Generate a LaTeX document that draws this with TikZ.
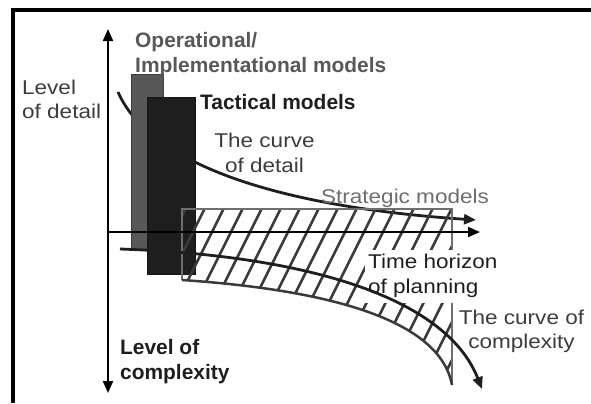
\documentclass[tikz,border=0pt]{standalone}
\usepackage{fontspec}
\setmainfont{Liberation Sans}
\newfontfamily\widesans{Liberation Sans}[FakeStretch=1.13]
\usetikzlibrary{arrows.meta}
\definecolor{ink}{HTML}{1E1E1E}
\definecolor{slate}{HTML}{585858}
\definecolor{hatchgrey}{HTML}{3A3A3A}
\definecolor{softgrey}{HTML}{6E6E6E}
\definecolor{textgrey}{HTML}{3C3C3C}

\begin{document}
\begin{tikzpicture}[x=1bp,y=-1bp,>={Triangle[width=10bp,length=12bp]},
  lbl/.style={inner sep=0pt,font=\widesans\fontsize{20}{24.5}\selectfont},
  lblbold/.style={inner sep=0pt,font=\fontsize{21}{25}\selectfont\bfseries},
  bar/.style={draw=#1!70!black,fill=#1,line width=1bp,anchor=north west,inner sep=0pt},
  curve/.style={line width=2.8bp,draw=ink},
  axis/.style={line width=2bp,draw=black},
  hatch/.style={line width=2.6bp,draw=hatchgrey}]
\useasboundingbox (0,0) rectangle (591,403);
% frame
\draw[line width=3.5bp] (13,403) -- (13,10) -- (591,10);
% axes end points
\coordinate (ytop) at (108,29);
\coordinate (ybot) at (108,393);
\coordinate (orig) at (108,232);
\coordinate (xend) at (480,232);
% curve of detail, behind the bars
\coordinate (d0) at (118,92);
\coordinate (d1) at (476,220);
\draw[curve,->] (d0) .. controls (150,165) and (280,207) .. (d1);
% bars
\node[bar=slate,minimum width=32bp,minimum height=176bp] (oper) at (131,74) {};
\node[bar=ink,minimum width=48bp,minimum height=177bp] (tact) at (147,97) {};
% strategic models, hatched
\coordinate (s0) at (182,209);
\coordinate (s1) at (452,209);
\coordinate (s2) at (452,385);
\coordinate (s3) at (182,280);
\begin{scope}
\clip (s0) -- (s1) -- (s2) .. controls (440,320) and (330,290) .. (s3) -- cycle;
\foreach \x in {190,209,...,560}
  \draw[hatch] (\x,200) -- ++(-100,200);
\end{scope}
\draw[line width=2bp,draw=softgrey] (s3) -- (s0) -- (s1) -- (s2);
\draw[line width=2.5bp,draw=hatchgrey] (s2) .. controls (440,320) and (330,290) .. (s3);
\node[lbl,anchor=west,align=left,fill=white,inner xsep=3bp,inner ysep=5bp,text=ink] (thor) at (365,276) {Time horizon\\of planning};
% axes
\draw[axis,<->] (ytop) -- (ybot);
\draw[axis,->] (orig) -- (xend);
% curve of complexity
\coordinate (c0) at (120,249);
\coordinate (c1) at (482,389);
\draw[curve,->] (c0) .. controls (300,255) and (445,295) .. (c1);
% labels
\node[lbl,anchor=west,align=left,text=textgrey] (lod) at (22,99.5) {Level\\of detail};
\node[lblbold,anchor=west,align=left,text=slate] (opl) at (135,55) {Operational/\\Implementational models};
\node[lblbold,anchor=west,text=ink] (tacl) at (200,102.5) {Tactical models};
\node[lbl,align=center,text=textgrey] (cod) at (264.5,153) {The curve\\of detail};
\node[lbl,text=softgrey] (strat) at (405,198) {Strategic models};
\node[lbl,align=center,text=textgrey] (coc) at (521.5,331.5) {The curve of\\complexity};
\node[lblbold,anchor=west,align=left,text=ink] (loc) at (120,361.5) {Level of\\complexity};
\end{tikzpicture}
\end{document}
